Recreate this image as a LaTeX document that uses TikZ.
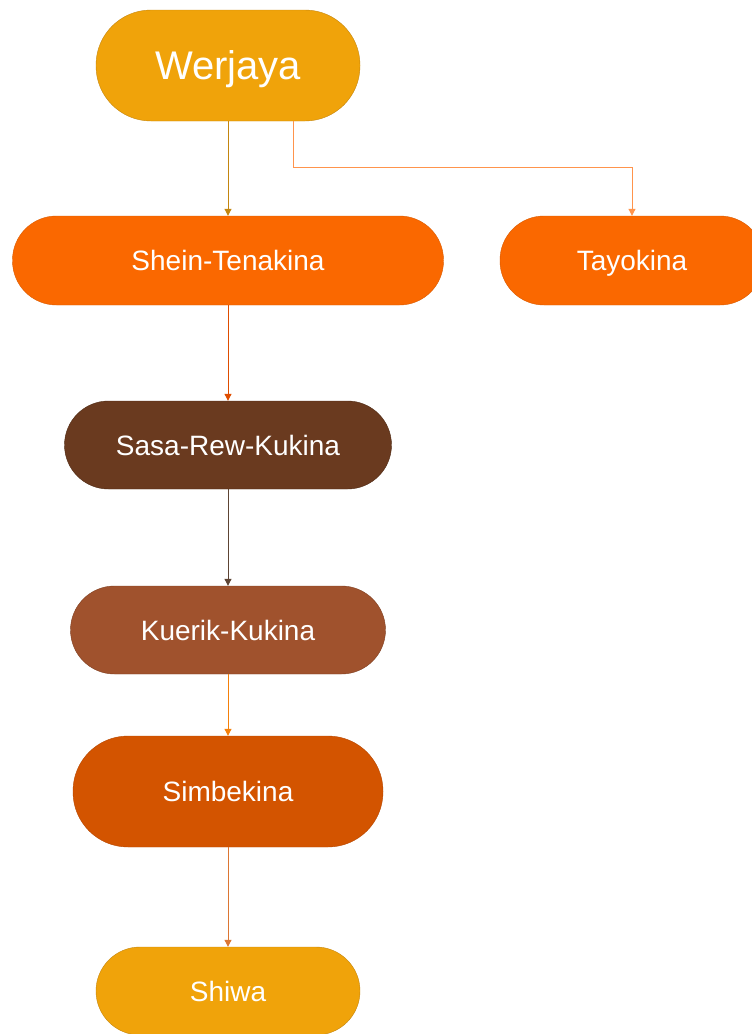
\documentclass[tikz,border=0pt]{standalone}
\usepackage{fontspec}
\setmainfont{Liberation Sans}
\usetikzlibrary{arrows.meta}

\definecolor{gold}{HTML}{F0A30A}
\definecolor{goldline}{HTML}{C4860F}
\definecolor{tangerine}{HTML}{FA6800}
\definecolor{tangerineline}{HTML}{D95B00}
\definecolor{chestnut}{HTML}{6A3A1F}
\definecolor{chestnutline}{HTML}{4E2A14}
\definecolor{sienna}{HTML}{A0522D}
\definecolor{siennaline}{HTML}{7E3F21}
\definecolor{rust}{HTML}{D35400}
\definecolor{rustline}{HTML}{B54700}

\tikzset{
  pill/.style={draw, rounded corners=#1, text=white, inner sep=0pt,
    text depth=0pt, font=\fontsize{28}{32}\selectfont},
  link/.style={line width=1pt, -{Triangle[length=7pt,width=7pt]}}
}

\begin{document}
\begin{tikzpicture}[x=1pt, y=-1pt]
    \clip (0,0) rectangle (752,1034);

    \node (werjaya) at (228,65.5) [pill=55pt, fill=gold, draw=goldline,
        minimum width=264pt, minimum height=111pt,
        font=\fontsize{40}{44}\selectfont] {Werjaya};
    \node (shein) at (228,260.5) [pill=44pt, fill=tangerine, draw=tangerineline,
        minimum width=431pt, minimum height=89pt] {Shein-Tenakina};
    \node (tayo) at (632,260.5) [pill=44pt, fill=tangerine, draw=tangerineline,
        minimum width=264pt, minimum height=89pt] {Tayokina};
    \node (sasa) at (228,445) [pill=44pt, fill=chestnut, draw=chestnutline,
        minimum width=327pt, minimum height=88pt] {Sasa-Rew-Kukina};
    \node (kuerik) at (228,630) [pill=44pt, fill=sienna, draw=siennaline,
        minimum width=315pt, minimum height=88pt] {Kuerik-Kukina};
    \node (simbe) at (228,791.5) [pill=55pt, fill=rust, draw=rustline,
        minimum width=310pt, minimum height=111pt] {Simbekina};
    \node (shiwa) at (228,991) [pill=44pt, fill=gold, draw=goldline,
        minimum width=264pt, minimum height=88pt] {Shiwa};

    % descent lines
    \draw[link, draw=goldline] (werjaya) -- (shein);
    \draw[link, draw=orange!80!red!70!white]
        ([xshift=65pt]werjaya.south) -- ++(0,46) -| (tayo.north);
    \draw[link, draw=tangerineline!85!red] (shein) -- (sasa);
    \draw[link, draw=chestnutline!70!gray] (sasa) -- (kuerik);
    \draw[link, draw=orange!85!brown] (kuerik) -- (simbe);
    \draw[link, draw=rust!80!white] (simbe) -- (shiwa);
\end{tikzpicture}
\end{document}
